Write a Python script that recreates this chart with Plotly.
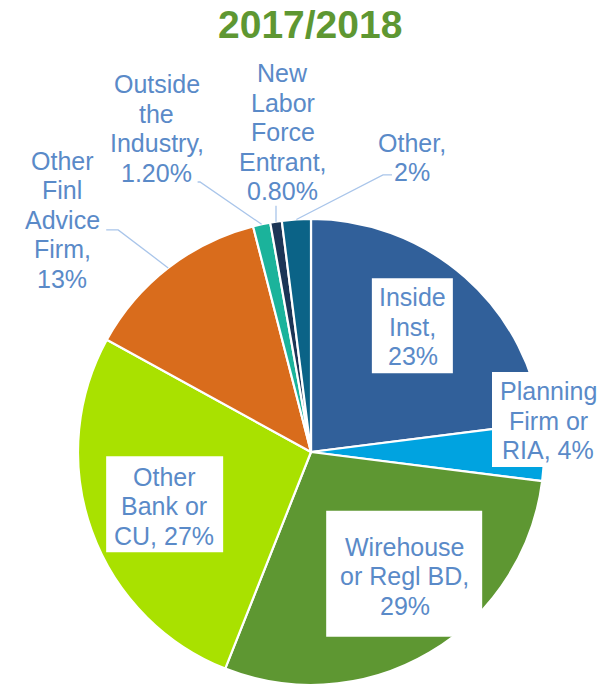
import math
import plotly.graph_objects as go

# ---------------- data ----------------
categories = ["Inside Inst", "Planning Firm or RIA", "Wirehouse or Regl BD",
              "Other Bank or CU", "Other Finl Advice Firm", "Outside the Industry",
              "New Labor Force Entrant", "Other"]
values = [23, 4, 29, 27, 13, 1.2, 0.8, 2]
label_lines = [
    ["Inside", "Inst,", "23%"],
    ["Planning", "Firm or", "RIA, 4%"],
    ["Wirehouse", "or Regl BD,", "29%"],
    ["Other", "Bank or", "CU, 27%"],
    ["Other", "Finl", "Advice", "Firm,", "13%"],
    ["Outside", "the", "Industry,", "1.20%"],
    ["New", "Labor", "Force", "Entrant,", "0.80%"],
    ["Other,", "2%"],
]
title_text = "2017/2018"

# ---------------- style ----------------
colors = ["#31609A", "#00A3E0", "#5E9732", "#A9E100", "#D96C1C",
          "#1BB39B", "#1C3556", "#0B6387"]
text_color = "#5A8AC8"
leader_color = "#A9C5EA"
W, H = 614, 685
CX, CY, R = 311, 452, 233
FONT = "Liberation Sans, Arial, sans-serif"
FS = 25
LINE_H = 29.5

# per label: radial fraction, pixel shift of text centre, box (dx, dy, w, h) or None,
# leader elbow points relative to slice edge (or None)
label_style = [
    dict(f=0.70, shift=(-6, -3), box=(-0.5, -1, 81, 95), leader=None),
    dict(f=1.00, shift=(4, -31.5), box=(-2, -1, 108, 95), leader=None),
    dict(f=0.655, shift=(16, -7), box=(-0.5, -2.5, 156, 126), leader=None),
    dict(f=0.663, shift=(-1.5, 2), box=(0.5, -2, 117, 96), leader=None),
    dict(f=1.0, shift=(-106, -48), box=None, leader=[(-50, -38), (-62, -38)]),
    dict(f=1.0, shift=(-105, -96), box=None, leader=[(-61.6, -42.3), (-64, -42.3)]),
    dict(f=1.0, shift=(7, -89.6), box=None, leader=[(0, -16)]),
    dict(f=1.0, shift=(116, -62), box=None, leader=[(86.6, -44.5), (95.6, -44.5)]),
]


def px(x, y):
    return x / W, 1 - y / H


fig = go.Figure()
fig.add_trace(go.Pie(
    labels=categories, values=values, sort=False, direction="clockwise",
    rotation=0, marker=dict(colors=colors, line=dict(color="white", width=2.2)),
    textinfo="none", hoverinfo="label+percent", showlegend=False,
    domain=dict(x=[(CX - R) / W, (CX + R) / W], y=[(H - CY - R) / H, (H - CY + R) / H]),
))

shapes = []
annotations = []
total = sum(values)
cum = 0
for v, lines, st in zip(values, label_lines, label_style):
    mid = (cum + v / 2) / total * 2 * math.pi
    cum += v
    sx, sy = math.sin(mid), -math.cos(mid)
    ex, ey = CX + R * sx, CY + R * sy
    tx = CX + st["f"] * R * sx + st["shift"][0]
    ty = CY + st["f"] * R * sy + st["shift"][1]
    if st["box"]:
        bdx, bdy, bw, bh = st["box"]
        x0, y0 = px(tx + bdx - bw / 2, ty + bdy - bh / 2)
        x1, y1 = px(tx + bdx + bw / 2, ty + bdy + bh / 2)
        shapes.append(dict(type="rect", xref="paper", yref="paper", x0=x0, x1=x1,
                           y0=y0, y1=y1, fillcolor="white", line=dict(width=0),
                           layer="above"))
    if st["leader"]:
        pts = [(ex, ey)] + [(ex + a, ey + b) for a, b in st["leader"]]
        path = "M " + " L ".join(f"{px(a, b)[0]},{px(a, b)[1]}" for a, b in pts)
        shapes.append(dict(type="path", xref="paper", yref="paper", path=path,
                           line=dict(color=leader_color, width=1.3), layer="above"))
    n = len(lines)
    for i, ln in enumerate(lines):
        ly = ty + (i - (n - 1) / 2) * LINE_H
        ax_, ay_ = px(tx, ly)
        annotations.append(dict(x=ax_, y=ay_, xref="paper", yref="paper", text=ln,
                                showarrow=False, xanchor="center", yanchor="middle",
                                font=dict(family=FONT, size=FS, color=text_color)))

tx_, ty_ = px(309.5, 25)
annotations.append(dict(x=tx_, y=ty_, xref="paper", yref="paper",
                        text=f"<b>{title_text}</b>", showarrow=False,
                        xanchor="center", yanchor="middle",
                        font=dict(family=FONT, size=39, color="#5E9732")))

fig.update_layout(width=W, height=H, margin=dict(l=0, r=0, t=0, b=0),
                  paper_bgcolor="white", plot_bgcolor="white",
                  shapes=shapes, annotations=annotations)
fig.write_html("out.html", config={"displayModeBar": False},
               post_script="document.body.style.margin='0';document.body.style.overflow='hidden';")
